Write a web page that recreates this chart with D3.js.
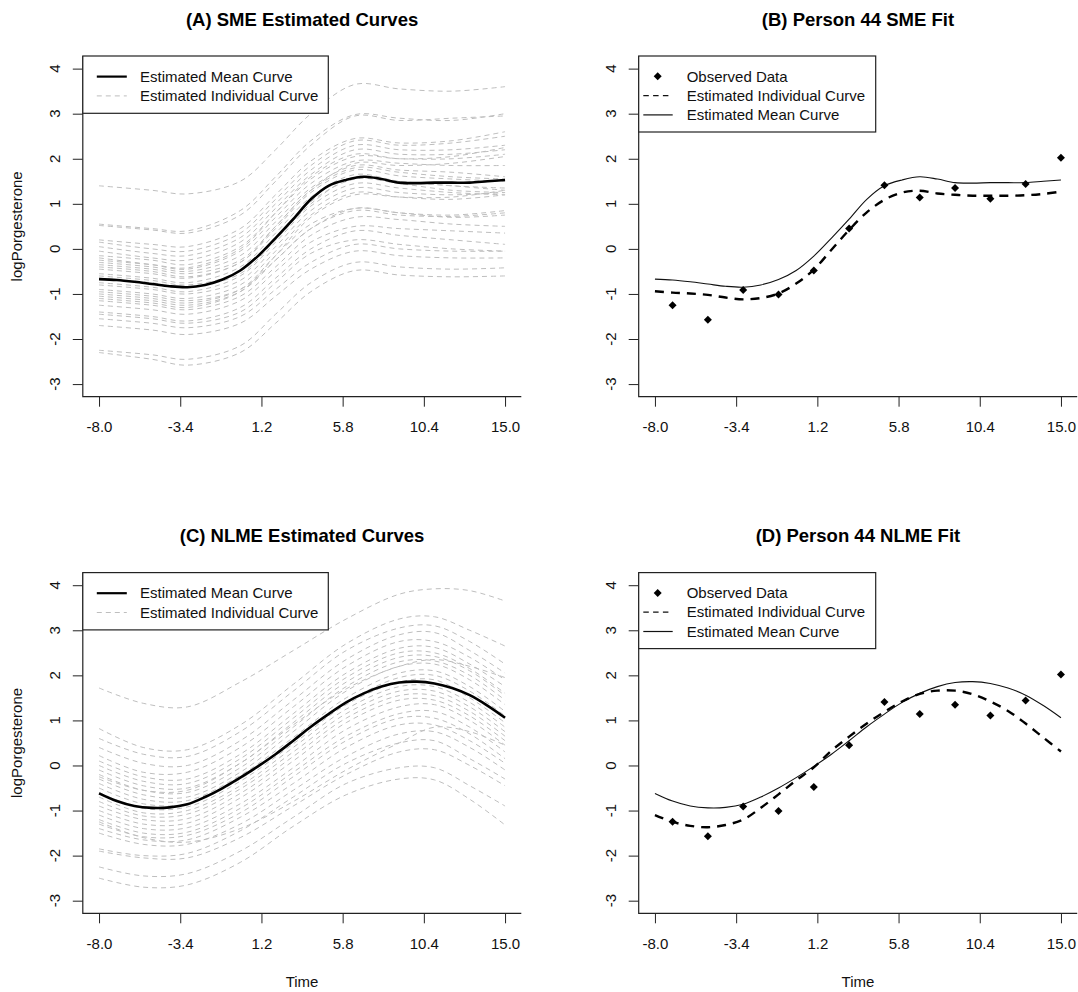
<!DOCTYPE html>
<html>
<head>
<meta charset="utf-8">
<script src="https://cdn.jsdelivr.net/npm/d3@7"></script>
<style>
  body { margin: 0; background: #fff; }
  svg { display: block; font-family: "Liberation Sans", Arial, sans-serif; }
</style>
</head>
<body>
<svg id="chart" width="1078" height="992"></svg>
<script>
// ---------- axis ticks ----------
const xLimits = [-8, 15];
const yLimits = [-3, 4];
const xTicks = [-8, -3.4, 1.2, 5.8, 10.4, 15];
const xTickLabels = ["-8.0", "-3.4", "1.2", "5.8", "10.4", "15.0"];
const yTicks = [-3, -2, -1, 0, 1, 2, 3, 4];
const yTickLabels = ["-3", "-2", "-1", "0", "1", "2", "3", "4"];

// ---------- titles and legend text ----------
const panelTitles = ["(A) SME Estimated Curves", "(B) Person 44 SME Fit",
                     "(C) NLME Estimated Curves", "(D) Person 44 NLME Fit"];
const groupLegend = ["Estimated Mean Curve", "Estimated Individual Curve"];
const personLegend = ["Observed Data", "Estimated Individual Curve", "Estimated Mean Curve"];
const yAxisTitle = "logPorgesterone";
const xAxisTitle = "Time";

// ---------- evaluation days for the fitted curves ----------
const days = [-8, -7, -6, -5, -4, -3, -2, -1, 0, 1, 2, 3, 4, 5, 6, 7, 8, 9, 10, 11, 12, 13, 14, 15];

// SME fits
const smeMean = [-0.67, -0.69, -0.73, -0.78, -0.83, -0.85, -0.80, -0.68, -0.48, -0.16, 0.24, 0.66,
                 1.10, 1.40, 1.53, 1.60, 1.55, 1.47, 1.46, 1.47, 1.47, 1.47, 1.50, 1.53];
const smePerson44 = [-0.94, -0.97, -0.99, -1.02, -1.08, -1.12, -1.09, -0.99, -0.77, -0.46, -0.02, 0.42,
                     0.81, 1.09, 1.25, 1.29, 1.23, 1.20, 1.18, 1.18, 1.18, 1.19, 1.22, 1.27];

// NLME fits
const nlmeMean = [-0.62, -0.79, -0.90, -0.94, -0.93, -0.86, -0.70, -0.50, -0.27, -0.02, 0.25, 0.55,
                  0.86, 1.14, 1.40, 1.60, 1.75, 1.84, 1.86, 1.82, 1.72, 1.56, 1.33, 1.06];
const nlmePerson44 = [-1.10, -1.25, -1.34, -1.37, -1.32, -1.20, -0.94, -0.64, -0.33, -0.04, 0.33, 0.64,
                      0.93, 1.19, 1.42, 1.59, 1.66, 1.66, 1.58, 1.42, 1.21, 0.93, 0.62, 0.31];

// Person 44 observations
const obsDays = [-7, -5, -3, -1, 1, 3, 5, 7, 9, 11, 13, 15];
const obsValues = [-1.25, -1.57, -0.91, -1.01, -0.48, 0.45, 1.41, 1.14, 1.35, 1.11, 1.44, 2.02];

// SME individual curves, values at these days
const smeDays = [-8, -5, -3, 0, 2, 4, 6.5, 9, 12, 15];
const smeCurves = [
  [1.40, 1.30, 1.22, 1.50, 2.20, 3.00, 3.65, 3.55, 3.50, 3.60],
  [0.55, 0.45, 0.40, 0.85, 1.60, 2.40, 2.98, 2.90, 2.85, 3.00],
  [0.52, 0.42, 0.35, 0.75, 1.50, 2.30, 2.95, 2.85, 2.90, 2.95],
  [0.20, 0.10, 0.05, 0.45, 1.20, 1.95, 2.45, 2.35, 2.40, 2.60],
  [0.15, 0.00, -0.05, 0.35, 1.10, 1.85, 2.40, 2.30, 2.35, 2.50],
  [0.05, -0.10, -0.15, 0.25, 1.00, 1.75, 2.30, 2.20, 2.20, 2.30],
  [-0.05, -0.20, -0.25, 0.15, 0.90, 1.65, 2.20, 2.10, 2.10, 2.20],
  [-0.15, -0.25, -0.35, 0.05, 0.80, 1.55, 2.05, 2.00, 2.00, 2.10],
  [-0.20, -0.35, -0.45, -0.05, 0.70, 1.45, 1.95, 1.90, 1.85, 1.85],
  [-0.25, -0.35, -0.42, 0.00, 0.80, 1.60, 2.10, 2.00, 2.05, 2.25],
  [-0.30, -0.40, -0.50, -0.15, 0.60, 1.35, 1.85, 1.75, 1.70, 1.60],
  [-0.35, -0.45, -0.55, -0.25, 0.50, 1.30, 1.80, 1.70, 1.60, 1.55],
  [-0.40, -0.50, -0.62, -0.30, 0.50, 1.30, 1.90, 1.85, 1.90, 2.05],
  [-0.45, -0.55, -0.65, -0.30, 0.45, 1.25, 1.75, 1.62, 1.55, 1.50],
  [-0.55, -0.65, -0.75, -0.40, 0.35, 1.15, 1.65, 1.50, 1.40, 1.30],
  [-0.60, -0.70, -0.80, -0.50, 0.25, 1.05, 1.55, 1.45, 1.30, 1.25],
  [-0.65, -0.75, -0.85, -0.55, 0.20, 1.00, 1.60, 1.50, 1.40, 1.35],
  [-0.75, -0.85, -0.95, -0.60, 0.15, 0.95, 1.45, 1.35, 1.25, 1.20],
  [-0.80, -0.90, -1.00, -0.70, 0.05, 0.85, 1.35, 1.25, 1.20, 1.25],
  [-0.90, -1.00, -1.10, -0.80, -0.05, 0.75, 1.25, 1.15, 1.10, 1.20],
  [-0.95, -1.05, -1.15, -0.90, -0.25, 0.45, 0.90, 0.80, 0.70, 0.75],
  [-1.00, -1.10, -1.20, -0.90, -0.15, 0.55, 0.90, 0.80, 0.75, 0.85],
  [-1.05, -1.15, -1.25, -0.95, -0.25, 0.45, 0.85, 0.75, 0.72, 0.80],
  [-1.10, -1.20, -1.30, -0.95, -0.15, 0.70, 1.20, 1.15, 1.15, 1.30],
  [-1.15, -1.25, -1.35, -1.05, -0.40, 0.30, 0.70, 0.65, 0.55, 0.50],
  [-1.25, -1.35, -1.45, -1.15, -0.50, 0.15, 0.50, 0.45, 0.40, 0.35],
  [-1.40, -1.50, -1.60, -1.30, -0.65, 0.00, 0.40, 0.30, 0.20, 0.10],
  [-1.45, -1.55, -1.65, -1.40, -0.75, -0.10, 0.20, 0.10, 0.00, -0.05],
  [-1.55, -1.65, -1.75, -1.50, -0.90, -0.30, 0.10, 0.00, -0.05, -0.05],
  [-1.70, -1.80, -1.90, -1.65, -1.05, -0.45, -0.05, -0.15, -0.20, -0.20],
  [-2.25, -2.35, -2.45, -2.15, -1.45, -0.75, -0.30, -0.40, -0.45, -0.42],
  [-2.30, -2.45, -2.58, -2.30, -1.65, -0.95, -0.48, -0.58, -0.62, -0.60]
];

// NLME individual curves, values at these days
const nlmeDays = [-8, -5.5, -3, 0, 3, 6, 9, 11, 13, 15];
const nlmeCurves = [
  [1.72, 1.38, 1.30, 1.85, 2.55, 3.25, 3.80, 3.92, 3.88, 3.65],
  [0.82, 0.40, 0.35, 0.90, 1.80, 2.70, 3.25, 3.30, 3.00, 2.65],
  [0.60, 0.25, 0.20, 0.75, 1.65, 2.55, 3.05, 3.10, 2.75, 2.25],
  [0.40, 0.05, 0.00, 0.55, 1.45, 2.35, 2.90, 2.95, 2.55, 2.05],
  [0.22, -0.15, -0.15, 0.40, 1.30, 2.20, 2.75, 2.75, 2.40, 1.90],
  [0.10, -0.25, -0.30, 0.25, 1.15, 2.05, 2.60, 2.62, 2.25, 1.75],
  [0.00, -0.35, -0.40, 0.15, 1.05, 1.95, 2.50, 2.50, 2.15, 1.60],
  [-0.10, -0.45, -0.50, 0.05, 0.95, 1.85, 2.40, 2.42, 2.10, 1.55],
  [-0.20, -0.55, -0.60, -0.05, 0.85, 1.75, 2.30, 2.32, 2.00, 1.45],
  [-0.25, -0.55, -0.55, 0.05, 0.90, 1.70, 2.20, 2.35, 2.20, 1.95],
  [-0.30, -0.65, -0.70, -0.15, 0.75, 1.65, 2.20, 2.25, 1.90, 1.35],
  [-0.40, -0.75, -0.78, -0.22, 0.62, 1.50, 2.05, 2.10, 1.75, 1.20],
  [-0.50, -0.85, -0.85, -0.30, 0.55, 1.40, 1.95, 2.00, 1.65, 1.10],
  [-0.60, -0.95, -0.92, -0.35, 0.48, 1.35, 1.85, 1.90, 1.50, 0.95],
  [-0.70, -1.05, -1.00, -0.45, 0.40, 1.25, 1.75, 1.75, 1.40, 0.85],
  [-0.80, -1.12, -1.08, -0.52, 0.30, 1.15, 1.65, 1.65, 1.30, 0.75],
  [-0.90, -1.20, -1.18, -0.62, 0.20, 1.05, 1.55, 1.55, 1.20, 0.65],
  [-1.00, -1.30, -1.28, -0.72, 0.10, 0.95, 1.45, 1.45, 1.10, 0.55],
  [-1.10, -1.40, -1.38, -0.85, -0.05, 0.80, 1.30, 1.35, 1.00, 0.45],
  [-1.20, -1.50, -1.48, -0.95, -0.15, 0.65, 1.15, 1.20, 0.85, 0.30],
  [-1.25, -1.60, -1.70, -1.40, -0.80, -0.10, 0.50, 0.85, 0.75, 0.45],
  [-1.30, -1.58, -1.55, -1.05, -0.25, 0.55, 1.05, 1.05, 0.70, 0.15],
  [-1.40, -1.65, -1.65, -1.15, -0.40, 0.40, 0.90, 0.90, 0.55, 0.05],
  [-1.50, -1.75, -1.75, -1.30, -0.55, 0.20, 0.70, 0.75, 0.40, -0.10],
  [-1.85, -2.00, -1.95, -1.45, -0.70, 0.05, 0.50, 0.55, 0.15, -0.30],
  [-1.90, -2.05, -2.05, -1.60, -0.90, -0.20, 0.30, 0.35, 0.00, -0.45],
  [-2.25, -2.45, -2.40, -1.90, -1.15, -0.40, -0.05, -0.05, -0.45, -0.90],
  [-2.50, -2.70, -2.65, -2.15, -1.35, -0.65, -0.30, -0.32, -0.75, -1.32]
];

// ---------- layout ----------
const svg = d3.select("#chart");
const W = 438.5, H = 340.7;
const GREY = "#bebebe";
const FONT = 15;
const DOT_SIZE = 32;

const zip = (xs, ys) => xs.map((d, i) => [d, ys[i]]);

const panels = [
  { left: 82.8,  top: 56,    title: panelTitles[0], kind: "group", days: smeDays,  curves: smeCurves,  mean: smeMean,  yTitle: true,  xTitle: false },
  { left: 638.7, top: 56,    title: panelTitles[1], kind: "person", mean: smeMean,  person: smePerson44,  yTitle: false, xTitle: false },
  { left: 82.8,  top: 572.6, title: panelTitles[2], kind: "group", days: nlmeDays, curves: nlmeCurves, mean: nlmeMean, yTitle: true,  xTitle: true },
  { left: 638.7, top: 572.6, title: panelTitles[3], kind: "person", mean: nlmeMean, person: nlmePerson44, yTitle: false, xTitle: true }
];

const xPad = 0.04 * (xLimits[1] - xLimits[0]);
const yPad = 0.04 * (yLimits[1] - yLimits[0]);

panels.forEach((p, pi) => {
  const x = d3.scaleLinear().domain([xLimits[0] - xPad, xLimits[1] + xPad]).range([0, W]);
  const y = d3.scaleLinear().domain([yLimits[0] - yPad, yLimits[1] + yPad]).range([H, 0]);
  const g = svg.append("g").attr("transform", `translate(${p.left},${p.top})`);

  const clipId = "clip" + pi;
  g.append("clipPath").attr("id", clipId)
    .append("rect").attr("x", 0).attr("y", 0).attr("width", W).attr("height", H);
  const plot = g.append("g").attr("clip-path", `url(#${clipId})`);

  const line = d3.line().x(d => x(d[0])).y(d => y(d[1])).curve(d3.curveCatmullRom.alpha(0.5));

  if (p.kind === "group") {
    plot.selectAll("path.ind").data(p.curves).join("path")
      .attr("class", "ind")
      .attr("d", c => line(zip(p.days, c)))
      .attr("fill", "none").attr("stroke", GREY).attr("stroke-width", 1)
      .attr("stroke-dasharray", "5,4");
    plot.append("path")
      .attr("d", line(zip(days, p.mean)))
      .attr("fill", "none").attr("stroke", "#000").attr("stroke-width", 2.6);
  } else {
    plot.append("path")
      .attr("d", line(zip(days, p.mean)))
      .attr("fill", "none").attr("stroke", "#111").attr("stroke-width", 1.1);
    plot.append("path")
      .attr("d", line(zip(days, p.person)))
      .attr("fill", "none").attr("stroke", "#000").attr("stroke-width", 2.4)
      .attr("stroke-dasharray", "9,7");
    const sym = d3.symbol().type(d3.symbolSquare).size(DOT_SIZE);
    plot.selectAll("path.obs").data(zip(obsDays, obsValues)).join("path")
      .attr("class", "obs")
      .attr("d", sym)
      .attr("transform", d => `translate(${x(d[0])},${y(d[1])}) rotate(45)`)
      .attr("fill", "#000");
  }

  // x axis ticks and labels
  const xAxis = g.append("g").attr("transform", `translate(0,${H})`)
    .call(d3.axisBottom(x).tickValues(xTicks).tickSize(10).tickPadding(14.7)
      .tickFormat((d, i) => xTickLabels[i]));
  xAxis.select(".domain").remove();
  xAxis.selectAll("line").attr("stroke", "#222");
  xAxis.selectAll("text").attr("font-size", FONT).attr("fill", "#111")
    .attr("font-family", "'Liberation Sans', Arial, sans-serif");

  // y axis ticks; labels drawn rotated
  const yAxis = g.append("g")
    .call(d3.axisLeft(y).tickValues(yTicks).tickSize(10).tickFormat(""));
  yAxis.select(".domain").remove();
  yAxis.selectAll("line").attr("stroke", "#222");
  g.append("g").selectAll("text").data(yTicks).join("text")
    .attr("transform", (d) => `translate(-27.8,${y(d)}) rotate(-90)`)
    .attr("text-anchor", "middle").attr("dy", "0.35em")
    .attr("font-size", FONT).attr("fill", "#111")
    .text((d, i) => yTickLabels[i]);

  // L-shaped frame
  g.append("path").attr("d", `M0,0V${H}H${W}`)
    .attr("fill", "none").attr("stroke", "#222").attr("stroke-width", 1.2);

  // title
  g.append("text").attr("x", W / 2).attr("y", -30.3)
    .attr("text-anchor", "middle").attr("font-weight", "bold")
    .attr("font-size", 18.5).attr("fill", "#000").text(p.title);

  if (p.yTitle) {
    g.append("text")
      .attr("transform", `translate(-65.6,${H / 2}) rotate(-90)`)
      .attr("text-anchor", "middle").attr("dy", "0.35em")
      .attr("font-size", FONT).attr("fill", "#111").text(yAxisTitle);
  }
  if (p.xTitle) {
    g.append("text").attr("x", W / 2).attr("y", H + 68.4).attr("dy", "0.35em")
      .attr("text-anchor", "middle")
      .attr("font-size", FONT).attr("fill", "#111").text(xAxisTitle);
  }

  // legend
  const lg = g.append("g");
  const rowGap = 19.3;
  if (p.kind === "group") {
    lg.append("rect").attr("x", 0).attr("y", 0).attr("width", 245.5).attr("height", 57.3)
      .attr("fill", "#fff").attr("stroke", "#222").attr("stroke-width", 1.2);
    const rows = lg.selectAll("g").data(groupLegend).join("g")
      .attr("transform", (d, i) => `translate(0,${20.6 + i * rowGap})`);
    rows.append("line").attr("x1", 14).attr("x2", 44)
      .attr("stroke", (d, i) => i === 0 ? "#000" : GREY)
      .attr("stroke-width", (d, i) => i === 0 ? 2.2 : 1)
      .attr("stroke-dasharray", (d, i) => i === 0 ? null : "5,4");
    rows.append("text").attr("x", 57.2).attr("dy", "0.35em")
      .attr("font-size", FONT).attr("fill", "#111").text(d => d);
  } else {
    lg.append("rect").attr("x", 0).attr("y", 0).attr("width", 237).attr("height", 76)
      .attr("fill", "#fff").attr("stroke", "#222").attr("stroke-width", 1.2);
    const rows = lg.selectAll("g").data(personLegend).join("g")
      .attr("transform", (d, i) => `translate(0,${20.3 + i * rowGap})`);
    rows.filter((d, i) => i === 0).append("path")
      .attr("d", d3.symbol().type(d3.symbolSquare).size(DOT_SIZE))
      .attr("transform", "translate(19,0) rotate(45)").attr("fill", "#000");
    rows.filter((d, i) => i > 0).append("line").attr("x1", 4.6).attr("x2", 34)
      .attr("stroke", "#111").attr("stroke-width", 1.2)
      .attr("stroke-dasharray", (d, i) => i === 0 ? "5.5,4.3" : null);
    rows.append("text").attr("x", 48).attr("dy", "0.35em")
      .attr("font-size", FONT).attr("fill", "#111").text(d => d);
  }
});
</script>
</body>
</html>
